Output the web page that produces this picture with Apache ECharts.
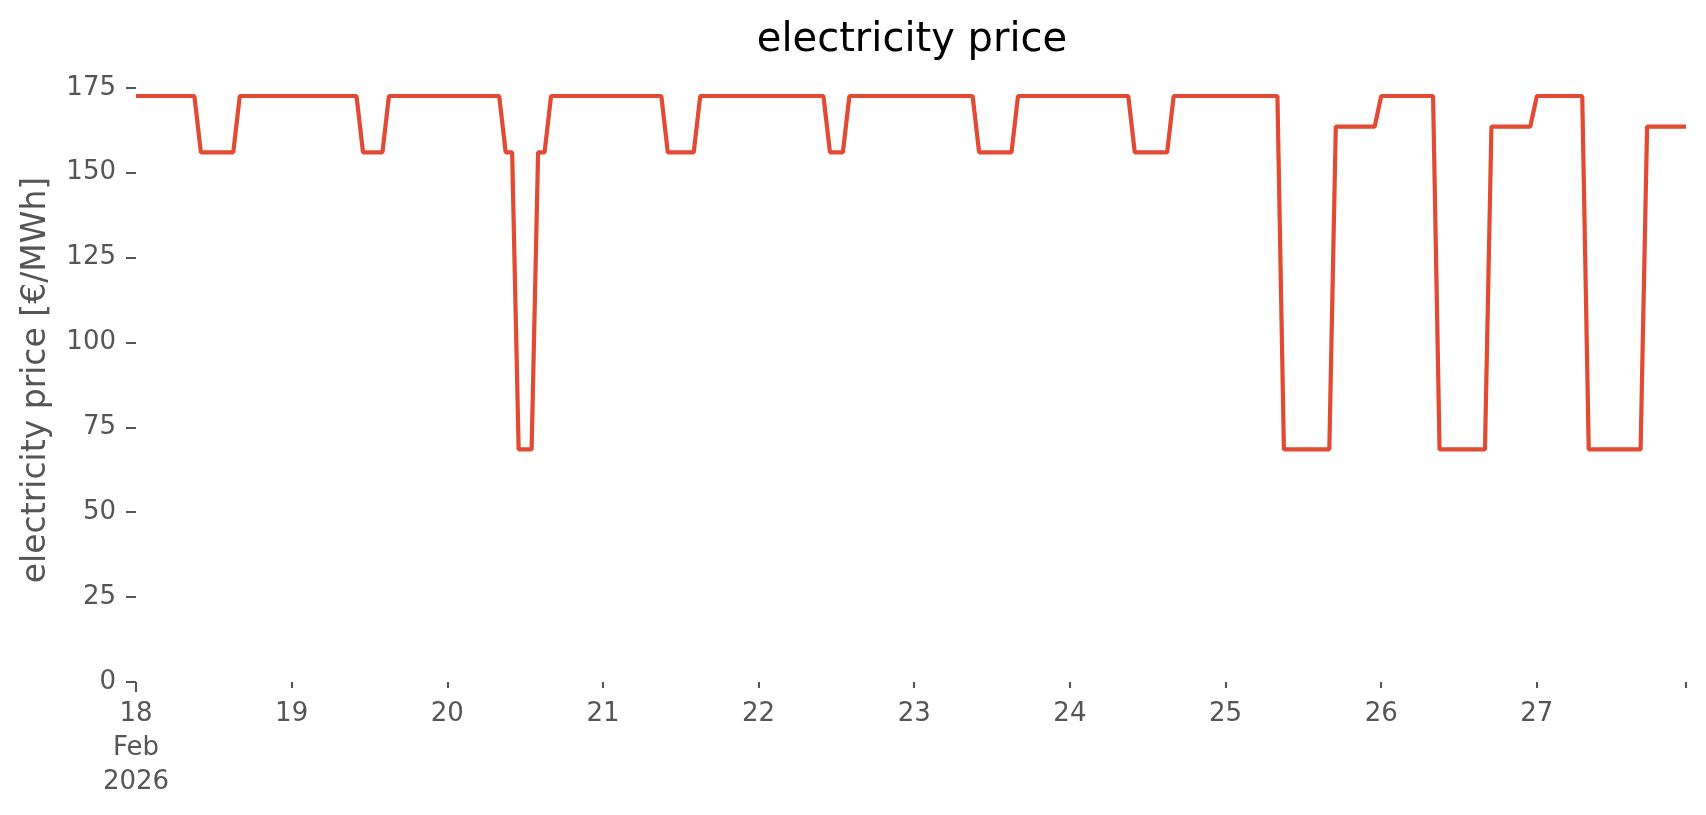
<!DOCTYPE html>
<html>
<head>
<meta charset="utf-8">
<title>electricity price</title>
<script src="https://cdn.jsdelivr.net/npm/echarts@6/dist/echarts.min.js"></script>
<style>
    html, body { margin: 0; padding: 0; background: #fff; }
    #chart { width: 1706px; height: 815px; }
</style>
</head>
<body>
<div id="chart"></div>
<script>
// hourly prices per day (€/MWh)
const feb18 = [172.6, 172.6, 172.6, 172.6, 172.6, 172.6, 172.6, 172.6, 172.6, 172.6, 156.0, 156.0,
               156.0, 156.0, 156.0, 156.0, 172.6, 172.6, 172.6, 172.6, 172.6, 172.6, 172.6, 172.6];
const feb19 = [172.6, 172.6, 172.6, 172.6, 172.6, 172.6, 172.6, 172.6, 172.6, 172.6, 172.6, 156.0,
               156.0, 156.0, 156.0, 172.6, 172.6, 172.6, 172.6, 172.6, 172.6, 172.6, 172.6, 172.6];
const feb20 = [172.6, 172.6, 172.6, 172.6, 172.6, 172.6, 172.6, 172.6, 172.6, 156.0, 156.0, 68.5,
               68.5, 68.5, 156.0, 156.0, 172.6, 172.6, 172.6, 172.6, 172.6, 172.6, 172.6, 172.6];
const feb21 = [172.6, 172.6, 172.6, 172.6, 172.6, 172.6, 172.6, 172.6, 172.6, 172.6, 156.0, 156.0,
               156.0, 156.0, 156.0, 172.6, 172.6, 172.6, 172.6, 172.6, 172.6, 172.6, 172.6, 172.6];
const feb22 = [172.6, 172.6, 172.6, 172.6, 172.6, 172.6, 172.6, 172.6, 172.6, 172.6, 172.6, 156.0,
               156.0, 156.0, 172.6, 172.6, 172.6, 172.6, 172.6, 172.6, 172.6, 172.6, 172.6, 172.6];
const feb23 = [172.6, 172.6, 172.6, 172.6, 172.6, 172.6, 172.6, 172.6, 172.6, 172.6, 156.0, 156.0,
               156.0, 156.0, 156.0, 156.0, 172.6, 172.6, 172.6, 172.6, 172.6, 172.6, 172.6, 172.6];
const feb24 = [172.6, 172.6, 172.6, 172.6, 172.6, 172.6, 172.6, 172.6, 172.6, 172.6, 156.0, 156.0,
               156.0, 156.0, 156.0, 156.0, 172.6, 172.6, 172.6, 172.6, 172.6, 172.6, 172.6, 172.6];
const feb25 = [172.6, 172.6, 172.6, 172.6, 172.6, 172.6, 172.6, 172.6, 172.6, 68.5, 68.5, 68.5,
               68.5, 68.5, 68.5, 68.5, 68.5, 163.6, 163.6, 163.6, 163.6, 163.6, 163.6, 163.6];
const feb26 = [172.6, 172.6, 172.6, 172.6, 172.6, 172.6, 172.6, 172.6, 172.6, 68.5, 68.5, 68.5,
               68.5, 68.5, 68.5, 68.5, 68.5, 163.6, 163.6, 163.6, 163.6, 163.6, 163.6, 163.6];
const feb27 = [172.6, 172.6, 172.6, 172.6, 172.6, 172.6, 172.6, 172.6, 68.5, 68.5, 68.5, 68.5,
               68.5, 68.5, 68.5, 68.5, 68.5, 163.6, 163.6, 163.6, 163.6, 163.6, 163.6, 163.6];

const days = [feb18, feb19, feb20, feb21, feb22, feb23, feb24, feb25, feb26, feb27];
const yTicks = [0, 25, 50, 75, 100, 125, 150, 175];

const HOUR = 3600 * 1000;
const DAY = 24 * HOUR;
const start = Date.UTC(2026, 1, 18);

// [time, price] pairs, one per hour
const points = [];
days.forEach((day, d) => {
    day.forEach((v, h) => {
        points.push([start + d * DAY + h * HOUR, v]);
    });
});
const end = points[points.length - 1][0];

const font = 'DejaVu Sans';
const tickColor = '#555555';

const chart = echarts.init(document.getElementById('chart'), null, { renderer: 'canvas' });

chart.setOption({
    animation: false,
    backgroundColor: '#ffffff',
    title: {
        text: 'electricity price',
        left: 907,
        textAlign: 'center',
        top: 16,
        textStyle: { fontFamily: font, fontSize: 40, fontWeight: 'normal', color: '#000000' }
    },
    grid: { left: 136, right: 20, top: 78, bottom: 133, containLabel: false },
    xAxis: [
        {
            type: 'value',
            min: start,
            max: end,
            interval: DAY,
            axisLine: { show: false },
            splitLine: { show: false },
            axisTick: { show: true, length: 6, lineStyle: { color: tickColor, width: 2 } },
            axisLabel: {
                fontFamily: font,
                fontSize: 26,
                color: tickColor,
                margin: 15,
                lineHeight: 34,
                formatter: (v) => {
                    const dt = new Date(v);
                    if (dt.getUTCHours() !== 0) return '';
                    if (v === start) return dt.getUTCDate() + '\nFeb\n2026';
                    return String(dt.getUTCDate());
                }
            }
        },
        {
            // longer major tick on the first day
            type: 'value',
            min: start,
            max: end,
            position: 'bottom',
            axisLine: { show: false },
            splitLine: { show: false },
            axisLabel: { show: false },
            axisTick: { show: true, length: 10, customValues: [start], lineStyle: { color: tickColor, width: 2 } }
        }
    ],
    yAxis: {
        type: 'value',
        min: 0,
        max: 177.9,
        name: 'electricity price [€/MWh]',
        nameLocation: 'middle',
        nameGap: 83,
        nameTextStyle: { fontFamily: font, fontSize: 33, color: tickColor },
        axisLine: { show: false },
        splitLine: { show: false },
        axisTick: { show: true, length: 10, customValues: yTicks, lineStyle: { color: tickColor, width: 2 } },
        axisLabel: {
            fontFamily: font,
            fontSize: 26,
            color: tickColor,
            margin: 20,
            customValues: yTicks
        }
    },
    series: [
        {
            name: 'electricity price',
            type: 'line',
            data: points,
            showSymbol: false,
            lineStyle: { color: '#E24A33', width: 4.2 },
            itemStyle: { color: '#E24A33' }
        }
    ]
});
</script>
</body>
</html>
